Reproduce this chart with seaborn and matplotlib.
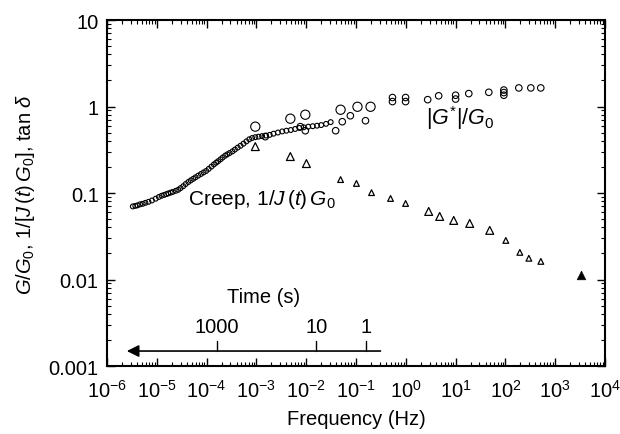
import matplotlib
matplotlib.use("Agg")
import matplotlib.pyplot as plt
import seaborn as sns
from matplotlib.ticker import LogLocator, FixedLocator, FixedFormatter, NullFormatter
from pandas import DataFrame

# creep, 1/J(t)G0 (small open circles)
creep_freq = [3.3e-6, 3.7e-6, 4.1e-6, 4.6e-6, 5.2e-6, 5.9e-6, 6.8e-6, 8.0e-6, 9.5e-6,
              1.1e-5, 1.25e-5, 1.4e-5, 1.55e-5, 1.7e-5, 1.9e-5, 2.1e-5, 2.4e-5, 2.7e-5,
              3.0e-5, 3.4e-5, 3.8e-5, 4.3e-5, 4.8e-5, 5.4e-5, 6.0e-5, 6.8e-5, 7.7e-5,
              8.7e-5, 9.8e-5, 1.1e-4, 1.25e-4, 1.4e-4, 1.55e-4, 1.7e-4, 1.9e-4, 2.1e-4,
              2.35e-4, 2.6e-4, 2.9e-4, 3.3e-4, 3.7e-4, 4.2e-4, 4.8e-4, 5.5e-4, 6.3e-4,
              7.2e-4, 8.2e-4, 9.5e-4, 1.1e-3, 1.3e-3, 1.55e-3, 1.85e-3, 2.2e-3, 2.7e-3,
              3.3e-3, 4.0e-3, 4.9e-3, 6.0e-3, 7.3e-3, 8.9e-3, 1.1e-2, 1.35e-2, 1.65e-2,
              2.0e-2, 2.5e-2, 3.1e-2]
creep_val = [0.070, 0.071, 0.072, 0.074, 0.075, 0.077, 0.079, 0.082, 0.086,
             0.090, 0.093, 0.095, 0.097, 0.099, 0.101, 0.103, 0.106, 0.109,
             0.114, 0.120, 0.127, 0.134, 0.140, 0.146, 0.152, 0.159, 0.166,
             0.173, 0.180, 0.190, 0.202, 0.214, 0.224, 0.233, 0.245, 0.257,
             0.270, 0.280, 0.290, 0.303, 0.318, 0.335, 0.352, 0.372, 0.395,
             0.418, 0.432, 0.442, 0.448, 0.455, 0.462, 0.470, 0.485, 0.500,
             0.515, 0.525, 0.535, 0.550, 0.565, 0.575, 0.585, 0.592, 0.600,
             0.610, 0.630, 0.660]

# |G*|/G0, large circles
gstar_big_freq = [9.5e-4, 4.8e-3, 9.6e-3, 4.9e-2, 0.107, 0.196]
gstar_big_val = [0.585, 0.723, 0.804, 0.918, 0.993, 0.993]

# |G*|/G0, medium circles
gstar_freq = [1.51e-3, 7.6e-3, 9.6e-3, 3.9e-2, 5.3e-2, 7.7e-2, 0.155,
              0.54, 0.54, 0.99, 0.99, 2.75, 4.57, 10.0, 10.0, 18.4, 46.4,
              93.0, 93.0, 93.0, 186.0, 324.0, 513.0]
gstar_val = [0.448, 0.585, 0.525, 0.525, 0.667, 0.782, 0.685,
             1.27, 1.14, 1.27, 1.14, 1.20, 1.33, 1.35, 1.22, 1.41, 1.46,
             1.55, 1.45, 1.35, 1.64, 1.64, 1.64]

# tan delta, open triangles
tan_big_freq = [9.5e-4, 4.8e-3, 1.01e-2, 2.88, 4.79, 9.16, 19.2, 48.5]
tan_big_val = [0.344, 0.264, 0.219, 0.0612, 0.0536, 0.0482, 0.0445, 0.037]
tan_small_freq = [4.9e-2, 0.102, 0.205, 0.494, 0.99, 102.0, 195.0, 296.0, 515.0]
tan_small_val = [0.143, 0.129, 0.101, 0.0865, 0.0757, 0.0283, 0.0206, 0.0176, 0.0162]

# filled triangle
tan_hf_freq = [3290.0]
tan_hf_val = [0.0112]

# time axis (t -> f = 1/(2 pi t))
time_ticks = [1000, 10, 1]
time_labels = ["1000", "10", "1"]

sns.set_style("ticks")
plt.rcParams["font.family"] = ["Liberation Sans", "DejaVu Sans"]
plt.rcParams["mathtext.fontset"] = "custom"
plt.rcParams["mathtext.rm"] = "Liberation Sans"
plt.rcParams["mathtext.it"] = "Liberation Sans:italic"
plt.rcParams["mathtext.bf"] = "Liberation Sans:bold"
for key in ["text.color", "axes.labelcolor", "xtick.color", "ytick.color", "axes.edgecolor"]:
    plt.rcParams[key] = "black"

fig, ax = plt.subplots(figsize=(6.2, 4.35), dpi=100)
fig.subplots_adjust(left=0.1726, right=0.9758, bottom=0.1563, top=0.9517)

open_kw = dict(facecolor="none", edgecolor="black", legend=False, ax=ax)
sns.scatterplot(data=DataFrame({"f": creep_freq, "v": creep_val}), x="f", y="v",
                marker="o", s=12, linewidth=0.8, **open_kw)
sns.scatterplot(data=DataFrame({"f": gstar_freq, "v": gstar_val}), x="f", y="v",
                marker="o", s=22, linewidth=0.8, **open_kw)
sns.scatterplot(data=DataFrame({"f": gstar_big_freq, "v": gstar_big_val}), x="f", y="v",
                marker="o", s=44, linewidth=0.8, **open_kw)
sns.scatterplot(data=DataFrame({"f": tan_big_freq, "v": tan_big_val}), x="f", y="v",
                marker="^", s=32, linewidth=0.9, **open_kw)
sns.scatterplot(data=DataFrame({"f": tan_small_freq, "v": tan_small_val}), x="f", y="v",
                marker="^", s=17, linewidth=0.9, **open_kw)
sns.scatterplot(data=DataFrame({"f": tan_hf_freq, "v": tan_hf_val}), x="f", y="v",
                marker="^", s=38, color="black", edgecolor="black", legend=False, ax=ax)

ax.set_xscale("log")
ax.set_yscale("log")
ax.set_xlim(1e-6, 1e4)
ax.set_ylim(1e-3, 10)

ax.xaxis.set_major_locator(LogLocator(base=10, numticks=20))
ax.xaxis.set_minor_locator(LogLocator(base=10, subs=range(2, 10), numticks=100))
ax.xaxis.set_minor_formatter(NullFormatter())
yt = [0.001, 0.01, 0.1, 1, 10]
ax.yaxis.set_major_locator(FixedLocator(yt))
ax.yaxis.set_major_formatter(FixedFormatter(["0.001", "0.01", "0.1", "1", "10"]))
ax.yaxis.set_minor_locator(LogLocator(base=10, subs=range(2, 10), numticks=100))
ax.yaxis.set_minor_formatter(NullFormatter())

ax.tick_params(which="both", direction="in", top=True, right=True, colors="black")
ax.tick_params(which="major", length=6, width=1.0, labelsize=14.5, pad=6)
ax.tick_params(axis="x", which="major", pad=9)
ax.tick_params(which="minor", length=3, width=0.8)
for sp in ax.spines.values():
    sp.set_linewidth(1.5)
    sp.set_color("black")

ax.set_xlabel("Frequency (Hz)", fontsize=14.5, labelpad=6)
ax.set_ylabel(r"$G/G_0$, $1/[J\,(t)\,G_0]$, tan $\delta$", fontsize=14.5, labelpad=8)

ax.text(4.3e-5, 0.0865, r"Creep, $1/J\,(t)\,G_0$", fontsize=15, va="center", ha="left")
ax.text(2.5, 0.76, r"$|G^{*}|/G_0$", fontsize=15.5, va="center", ha="left")

# time scale arrow
ax.annotate("", xy=(2.5e-6, 0.00149), xytext=(0.31, 0.00149),
            arrowprops=dict(arrowstyle="-|>", color="black", lw=1.2,
                            mutation_scale=18, shrinkA=0, shrinkB=0))
for t, lab in zip(time_ticks, time_labels):
    f = 1.0 / (2 * 3.141592653589793 * t)
    ax.plot([f, f], [0.00149, 0.00194], color="black", lw=1.0)
    ax.text(f, 0.00289, lab, fontsize=14.5, ha="center", va="center")
ax.text(1.38e-3, 0.0064, "Time (s)", fontsize=14.5, ha="center", va="center")

fig.savefig("out.png", dpi=100)
